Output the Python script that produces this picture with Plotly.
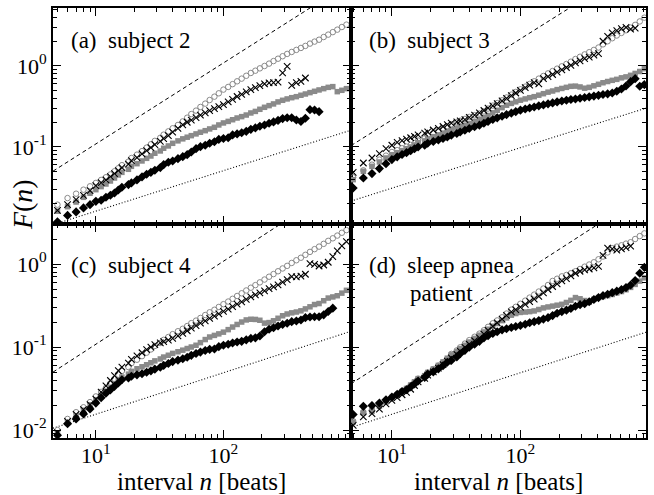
import plotly.graph_objects as go

# interval sizes n [beats]
N = [5, 6, 7, 8, 9, 10, 11, 12, 13, 14, 15, 16, 18, 19, 21, 23, 25, 27, 29, 32,
     34, 37, 40, 44, 48, 52, 56, 61, 66, 72, 78, 85, 92, 100, 109, 118, 128, 139, 151, 164,
     178, 193, 210, 228, 247, 268, 291, 316, 343, 373, 405, 439, 477, 518, 562, 611, 663, 720, 781, 848,
     921]

# ---- panel (a) subject 2 ----
A_CIRC = [0.0194, 0.0234, 0.0265, 0.0297, 0.0327, 0.0360, 0.0392, 0.0423, 0.0458, 0.0501,
          0.0546, 0.0596, 0.0659, 0.0731, 0.0804, 0.0889, 0.0982, 0.108, 0.119, 0.130,
          0.142, 0.156, 0.170, 0.187, 0.207, 0.230, 0.255, 0.281, 0.312, 0.343,
          0.380, 0.418, 0.460, 0.511, 0.551, 0.597, 0.647, 0.698, 0.757, 0.820,
          0.875, 0.935, 1.00, 1.07, 1.15, 1.23, 1.32, 1.41, 1.49, 1.58,
          1.67, 1.77, 1.89, 2.00, 2.11, 2.28, 2.44, 2.62, 2.81, 3.03, 3.24]
A_X = [0.0165, 0.0194, 0.0224, 0.0253, 0.0289, 0.0333, 0.0363, 0.0392, 0.0430, 0.0469,
       0.0510, 0.0556, 0.0614, 0.0678, 0.0741, 0.0820, 0.0902, 0.0982, 0.107, 0.117,
       0.127, 0.138, 0.153, 0.170, 0.187, 0.202, 0.215, 0.230, 0.248, 0.264,
       0.281, 0.297, 0.315, 0.333, 0.360, 0.388, 0.420, 0.447, 0.478, 0.511,
       0.541, 0.571, 0.600, 0.617, 0.622, 0.634, 0.820, 0.991, 0.577, 0.622,
       0.647, 0.711]
A_SQ = [0.0161, 0.0183, 0.0209, 0.0239, 0.0268, 0.0297, 0.0324, 0.0349, 0.0380, 0.0414,
        0.0451, 0.0486, 0.0530, 0.0577, 0.0622, 0.0672, 0.0724, 0.0774, 0.0836, 0.0893,
        0.0964, 0.103, 0.111, 0.119, 0.126, 0.132, 0.138, 0.145, 0.152, 0.159,
        0.167, 0.175, 0.187, 0.198, 0.207, 0.217, 0.228, 0.237, 0.248, 0.263,
        0.275, 0.292, 0.309, 0.324, 0.340, 0.360, 0.377, 0.392, 0.406, 0.418,
        0.435, 0.451, 0.469, 0.487, 0.506, 0.525, 0.545, 0.556, 0.482, 0.501, 0.525]
A_DIA = [0.0119, 0.0143, 0.0158, 0.0177, 0.0194, 0.0213, 0.0220, 0.0239, 0.0253, 0.0270,
         0.0294, 0.0318, 0.0343, 0.0360, 0.0392, 0.0427, 0.0460, 0.0486, 0.0515, 0.0556,
         0.0605, 0.0647, 0.0672, 0.0718, 0.0760, 0.0804, 0.0867, 0.0953, 0.101, 0.105,
         0.111, 0.116, 0.124, 0.127, 0.130, 0.141, 0.145, 0.150, 0.156, 0.165,
         0.172, 0.180, 0.187, 0.196, 0.204, 0.213, 0.224, 0.230, 0.230, 0.215,
         0.206, 0.226, 0.289, 0.286, 0.273]

# ---- panel (b) subject 3 ----
B_CIRC = [0.0422, 0.0515, 0.0605, 0.0698, 0.0782, 0.0867, 0.0914, 0.0964, 0.101, 0.106,
          0.111, 0.120, 0.128, 0.137, 0.148, 0.158, 0.168, 0.180, 0.191, 0.202,
          0.211, 0.222, 0.235, 0.247, 0.259, 0.275, 0.298, 0.324, 0.349, 0.377,
          0.408, 0.443, 0.478, 0.515, 0.556, 0.600, 0.647, 0.698, 0.753, 0.811,
          0.867, 0.927, 0.991, 1.06, 1.13, 1.22, 1.30, 1.39, 1.48, 1.58,
          1.69, 1.85, 2.02, 2.20, 2.38, 2.56, 2.76, 2.98, 3.22, 3.55, 3.95]
B_X = [0.0486, 0.0634, 0.0731, 0.0828, 0.0953, 0.105, 0.114, 0.120, 0.125, 0.130,
       0.135, 0.141, 0.148, 0.154, 0.162, 0.170, 0.179, 0.189, 0.197, 0.204,
       0.210, 0.217, 0.232, 0.248, 0.264, 0.282, 0.302, 0.322, 0.343, 0.370,
       0.399, 0.431, 0.464, 0.501, 0.541, 0.581, 0.622, 0.600, 0.698, 0.738,
       0.785, 0.839, 0.897, 0.958, 1.02, 1.09, 1.16, 1.23, 1.29, 1.36,
       1.42, 2.02, 2.32, 2.56, 2.73, 2.89, 3.00, 2.86, 2.94]
B_SQ = [0.0395, 0.0501, 0.0577, 0.0653, 0.0731, 0.0804, 0.0851, 0.0902, 0.0951, 0.100,
        0.106, 0.113, 0.119, 0.126, 0.134, 0.141, 0.148, 0.156, 0.164, 0.171,
        0.178, 0.186, 0.195, 0.207, 0.218, 0.231, 0.245, 0.264, 0.284, 0.306,
        0.328, 0.345, 0.361, 0.378, 0.392, 0.406, 0.418, 0.436, 0.455, 0.475,
        0.491, 0.511, 0.528, 0.545, 0.561, 0.564, 0.551, 0.532, 0.545, 0.569,
        0.594, 0.621, 0.643, 0.665, 0.684, 0.714, 0.734, 0.767, 0.809, 0.855, 0.927]
B_DIA = [0.0312, 0.0414, 0.0469, 0.0541, 0.0622, 0.0698, 0.0755, 0.0807, 0.0851, 0.0897,
         0.0951, 0.100, 0.105, 0.111, 0.117, 0.122, 0.127, 0.133, 0.140, 0.147,
         0.153, 0.161, 0.169, 0.178, 0.186, 0.196, 0.207, 0.218, 0.229, 0.240,
         0.251, 0.262, 0.273, 0.285, 0.294, 0.303, 0.312, 0.322, 0.331, 0.341,
         0.350, 0.360, 0.370, 0.378, 0.385, 0.392, 0.400, 0.408, 0.416, 0.425,
         0.434, 0.444, 0.453, 0.464, 0.487, 0.520, 0.566, 0.641, 0.698, 0.561, 0.589]

# ---- panel (c) subject 4 ----
C_CIRC = [0.0100, 0.0136, 0.0164, 0.0188, 0.0217, 0.0254, 0.0288, 0.0322, 0.0365, 0.0412,
          0.0465, 0.0514, 0.0573, 0.0638, 0.0703, 0.0776, 0.0855, 0.0935, 0.103, 0.112,
          0.122, 0.132, 0.143, 0.155, 0.166, 0.179, 0.194, 0.208, 0.224, 0.243,
          0.262, 0.281, 0.304, 0.328, 0.353, 0.381, 0.412, 0.444, 0.480, 0.518,
          0.557, 0.601, 0.650, 0.703, 0.757, 0.818, 0.884, 0.950, 1.03, 1.11,
          1.19, 1.29, 1.40, 1.51, 1.62, 1.75, 1.90, 2.04, 2.20, 2.38, 2.56]
C_X = [0.00929, 0.0127, 0.0154, 0.0176, 0.0202, 0.0236, 0.0286, 0.0340, 0.0395, 0.0452,
       0.0518, 0.0574, 0.0640, 0.0711, 0.0783, 0.0853, 0.0929, 0.100, 0.107, 0.112,
       0.116, 0.121, 0.127, 0.136, 0.146, 0.157, 0.169, 0.181, 0.194, 0.207,
       0.221, 0.235, 0.251, 0.268, 0.286, 0.307, 0.329, 0.350, 0.375, 0.402,
       0.426, 0.450, 0.475, 0.504, 0.531, 0.561, 0.605, 0.650, 0.706, 0.700,
       0.713, 0.753, 1.01, 0.991, 0.946, 0.973, 1.05, 1.23, 1.44, 1.65, 1.86]
C_SQ = [0.00912, 0.0122, 0.0147, 0.0173, 0.0202, 0.0232, 0.0262, 0.0294, 0.0328, 0.0363,
        0.0403, 0.0435, 0.0471, 0.0509, 0.0547, 0.0578, 0.0612, 0.0646, 0.0681, 0.0718,
        0.0757, 0.0796, 0.0838, 0.0877, 0.0916, 0.0959, 0.100, 0.105, 0.113, 0.123,
        0.132, 0.138, 0.144, 0.151, 0.162, 0.174, 0.187, 0.200, 0.212, 0.216,
        0.215, 0.210, 0.194, 0.197, 0.207, 0.222, 0.238, 0.250, 0.258, 0.264,
        0.273, 0.288, 0.305, 0.325, 0.334, 0.361, 0.389, 0.401, 0.415, 0.446, 0.482]
C_DIA = [0.00865, 0.0119, 0.0136, 0.0156, 0.0179, 0.0211, 0.0245, 0.0277, 0.0305, 0.0336,
         0.0369, 0.0403, 0.0424, 0.0445, 0.0462, 0.0476, 0.0497, 0.0516, 0.0541, 0.0570,
         0.0601, 0.0632, 0.0667, 0.0695, 0.0723, 0.0753, 0.0794, 0.0834, 0.0869, 0.0908,
         0.0938, 0.0948, 0.101, 0.105, 0.108, 0.112, 0.115, 0.117, 0.122, 0.127,
         0.129, 0.136, 0.153, 0.164, 0.171, 0.179, 0.187, 0.193, 0.202, 0.206,
         0.212, 0.226, 0.230, 0.232, 0.232, 0.244, 0.268, 0.294]

# ---- panel (d) sleep apnea patient ----
D_CIRC = [0.0128, 0.0165, 0.0175, 0.0197, 0.0225, 0.0252, 0.0271, 0.0294, 0.0316, 0.0347,
          0.0379, 0.0416, 0.0449, 0.0492, 0.0542, 0.0597, 0.0652, 0.0718, 0.0826, 0.0910,
          0.0991, 0.110, 0.121, 0.133, 0.145, 0.159, 0.175, 0.193, 0.209, 0.228,
          0.253, 0.282, 0.305, 0.332, 0.362, 0.394, 0.428, 0.466, 0.507, 0.559,
          0.625, 0.665, 0.710, 0.738, 0.774, 0.818, 0.871, 0.929, 0.986, 1.05,
          1.14, 1.23, 1.38, 1.55, 1.62, 1.68, 1.76, 1.83, 2.00, 2.17, 2.34]
D_X = [0.0114, 0.0144, 0.0158, 0.0179, 0.0206, 0.0228, 0.0246, 0.0266, 0.0285, 0.0310,
       0.0344, 0.0380, 0.0418, 0.0460, 0.0501, 0.0558, 0.0612, 0.0675, 0.0741, 0.0817,
       0.0893, 0.0991, 0.108, 0.119, 0.129, 0.143, 0.159, 0.177, 0.195, 0.217,
       0.240, 0.265, 0.283, 0.303, 0.326, 0.352, 0.378, 0.408, 0.450, 0.493,
       0.536, 0.578, 0.625, 0.668, 0.718, 0.774, 0.818, 0.849, 0.871, 0.896,
       0.938, 1.27, 1.55, 1.52, 1.47, 1.52, 1.58, 1.64]
D_SQ = [0.0125, 0.0161, 0.0168, 0.0193, 0.0217, 0.0243, 0.0266, 0.0291, 0.0317, 0.0348,
        0.0381, 0.0416, 0.0452, 0.0494, 0.0543, 0.0601, 0.0662, 0.0733, 0.0805, 0.0879,
        0.0957, 0.105, 0.115, 0.127, 0.139, 0.152, 0.164, 0.178, 0.192, 0.208,
        0.224, 0.242, 0.253, 0.261, 0.264, 0.267, 0.272, 0.283, 0.296, 0.304,
        0.311, 0.319, 0.327, 0.344, 0.365, 0.394, 0.381, 0.363, 0.346, 0.376,
        0.394, 0.405, 0.416, 0.430, 0.448, 0.466, 0.490, 0.523, 0.568, 0.622, 0.681]
D_DIA = [0.0154, 0.0193, 0.0197, 0.0211, 0.0232, 0.0249, 0.0269, 0.0291, 0.0306, 0.0331,
         0.0358, 0.0390, 0.0431, 0.0471, 0.0502, 0.0546, 0.0594, 0.0655, 0.0690, 0.0760,
         0.0830, 0.0912, 0.0994, 0.108, 0.117, 0.129, 0.137, 0.146, 0.153, 0.161,
         0.166, 0.172, 0.177, 0.182, 0.188, 0.196, 0.202, 0.208, 0.217, 0.226,
         0.239, 0.255, 0.267, 0.278, 0.291, 0.310, 0.324, 0.333, 0.351, 0.373,
         0.394, 0.416, 0.432, 0.452, 0.471, 0.492, 0.520, 0.559, 0.634, 0.774, 0.912]

# guide lines F = c * n^p  (dashed: p=1, dotted: p=0.5)
GUIDE_DASH_C = {"a": 0.0109, "b": 0.0216, "c": 0.0108, "d": 0.0075}
GUIDE_DOT_C = {"a": 0.0051, "b": 0.0098, "c": 0.0049, "d": 0.0049}

PANEL_LABELS = {"a": "(a)\u00a0 subject 2", "b": "(b)\u00a0 subject 3",
                "c": "(c)\u00a0 subject 4", "d": "(d)\u00a0 sleep apnea"}

X_TICKS = [10, 100]
X_TICKTEXT = ["10<sup>1</sup>", "10<sup>2</sup>"]
Y_TICKS = [0.01, 0.1, 1]
Y_TICKTEXT = ["10<sup>-2</sup>", "10<sup>-1</sup>", "10<sup>0</sup>"]
X_MINOR = [5, 6, 7, 8, 9, 20, 30, 40, 50, 60, 70, 80, 90, 200, 300, 400, 500, 600, 700, 800, 900]
Y_MINOR = [0.009, 0.02, 0.03, 0.04, 0.05, 0.06, 0.07, 0.08, 0.09,
           0.2, 0.3, 0.4, 0.5, 0.6, 0.7, 0.8, 0.9, 2, 3, 4, 5]

SERIES = {
    "a": (A_CIRC, A_X, A_SQ, A_DIA),
    "b": (B_CIRC, B_X, B_SQ, B_DIA),
    "c": (C_CIRC, C_X, C_SQ, C_DIA),
    "d": (D_CIRC, D_X, D_SQ, D_DIA),
}

FONT = "Liberation Serif, Times New Roman, serif"
GRAY = "#8a8a8a"

W, H = 654, 495
L, R, T, B = 53, 6, 8, 57
PW, PH = W - L - R, H - T - B
xsplit = (352 - L) / PW
ysplit = (438 - 224) / PH

XR_LEFT = [0.664, 3.0]
XR_RIGHT = [0.682, 2.977]
YR_TOP = [-1.951, 0.716]
YR_BOT = [-2.096, 0.482]

axes = {
    "a": ("x", "y", [0, xsplit], [ysplit, 1], XR_LEFT, YR_TOP, False, True),
    "b": ("x2", "y2", [xsplit, 1], [ysplit, 1], XR_RIGHT, YR_TOP, False, False),
    "c": ("x3", "y3", [0, xsplit], [0, ysplit], XR_LEFT, YR_BOT, True, True),
    "d": ("x4", "y4", [xsplit, 1], [0, ysplit], XR_RIGHT, YR_BOT, True, False),
}

fig = go.Figure()
layout = {}


def axis_common():
    return dict(
        type="log", showline=True, linecolor="black", linewidth=2, mirror="allticks",
        ticks="inside", ticklen=8, tickwidth=1.3, tickcolor="black",
        showgrid=False, zeroline=False,
        tickfont=dict(family=FONT, size=22, color="black"),
    )


for key, (xa, ya, xdom, ydom, xr, yr, showx, showy) in axes.items():
    circ, xs, sq, dia = SERIES[key]
    n_lo, n_hi = 10 ** xr[0], 10 ** xr[1]
    # guide lines
    cd = GUIDE_DASH_C[key]
    fig.add_trace(go.Scatter(x=[n_lo, n_hi], y=[cd * n_lo, cd * n_hi], mode="lines",
                             line=dict(color="black", width=1, dash="4px,3px"),
                             xaxis=xa, yaxis=ya, showlegend=False, hoverinfo="skip"))
    cdot = GUIDE_DOT_C[key]
    fig.add_trace(go.Scatter(x=[n_lo, n_hi], y=[cdot * n_lo ** 0.5, cdot * n_hi ** 0.5], mode="lines",
                             line=dict(color="black", width=1.1, dash="1px,2px"),
                             xaxis=xa, yaxis=ya, showlegend=False, hoverinfo="skip"))
    # data
    fig.add_trace(go.Scatter(x=N[:len(circ)], y=circ, mode="markers",
                             marker=dict(symbol="circle-open", size=5.5, color=GRAY, line=dict(width=1, color=GRAY)),
                             xaxis=xa, yaxis=ya, showlegend=False))
    fig.add_trace(go.Scatter(x=N[:len(sq)], y=sq, mode="markers",
                             marker=dict(symbol="square", size=5.5, color=GRAY, line=dict(width=0)),
                             xaxis=xa, yaxis=ya, showlegend=False))
    fig.add_trace(go.Scatter(x=N[:len(dia)], y=dia, mode="markers",
                             marker=dict(symbol="diamond", size=7, color="black", line=dict(width=0)),
                             xaxis=xa, yaxis=ya, showlegend=False))
    fig.add_trace(go.Scatter(x=N[:len(xs)], y=xs, mode="markers",
                             marker=dict(symbol="x-thin-open", size=6.5, color="black", line=dict(width=1.1, color="black")),
                             xaxis=xa, yaxis=ya, showlegend=False))

    xname = "xaxis" + xa[1:]
    yname = "yaxis" + ya[1:]
    xax = axis_common()
    xax.update(domain=xdom, range=xr, anchor=ya, tickvals=X_TICKS, ticktext=X_TICKTEXT,
               showticklabels=showx, ticklabelstandoff=-3,
               minor=dict(ticks="inside", ticklen=4, tickwidth=1, tickcolor="black",
                          tickmode="array", tickvals=X_MINOR, showgrid=False))
    yax = axis_common()
    yax.update(domain=ydom, range=yr, anchor=xa, tickvals=Y_TICKS, ticktext=Y_TICKTEXT,
               showticklabels=showy,
               minor=dict(ticks="inside", ticklen=4, tickwidth=1, tickcolor="black",
                          tickmode="array", tickvals=Y_MINOR, showgrid=False))
    layout[xname] = xax
    layout[yname] = yax


def px(xp):
    return (xp - L) / PW


def py(yp):
    return (H - B - yp) / PH


annotations = []
for key, (x0, y0) in {"a": (69, 40), "b": (368, 40), "c": (69, 265), "d": (368, 265)}.items():
    annotations.append(dict(text=PANEL_LABELS[key], x=px(x0), y=py(y0), xref="paper", yref="paper",
                            xanchor="left", yanchor="middle", showarrow=False,
                            font=dict(family=FONT, size=23, color="black")))
annotations.append(dict(text="patient", x=px(409), y=py(293), xref="paper", yref="paper",
                        xanchor="left", yanchor="middle", showarrow=False,
                        font=dict(family=FONT, size=23, color="black")))
for xc in (202, 500):
    annotations.append(dict(text="interval <i>n</i> [beats]", x=px(xc), y=py(481), xref="paper", yref="paper",
                            xanchor="center", yanchor="middle", showarrow=False,
                            font=dict(family=FONT, size=25, color="black")))
annotations.append(dict(text="<i>F</i>(<i>n</i>)", x=px(22), y=py(205), xref="paper", yref="paper",
                        xanchor="center", yanchor="middle", showarrow=False, textangle=-90,
                        font=dict(family=FONT, size=28, color="black")))

fig.update_layout(
    width=W, height=H, margin=dict(l=L, r=R, t=T, b=B, pad=0),
    paper_bgcolor="white", plot_bgcolor="white",
    showlegend=False, annotations=annotations, **layout,
)

fig.write_html("out.html")
